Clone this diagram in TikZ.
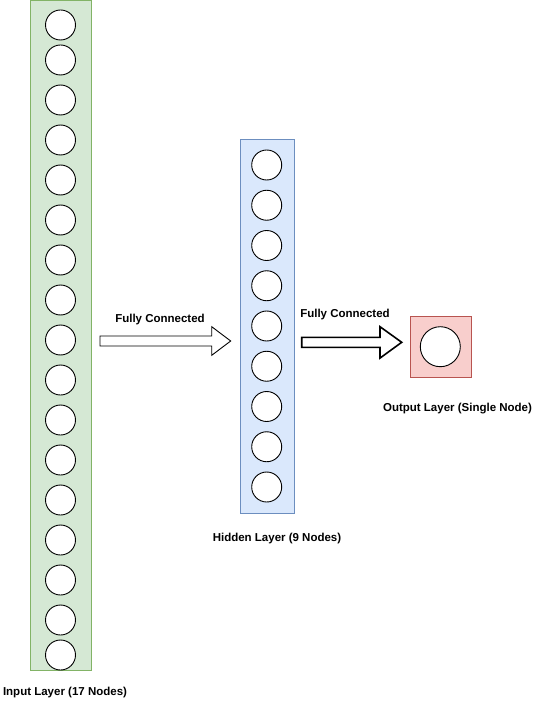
\documentclass[tikz,border=0pt]{standalone}
\usepackage{fontspec}
\setmainfont{Liberation Sans}
\usetikzlibrary{positioning}
\definecolor{GREEN_F}{HTML}{D5E8D4}
\definecolor{GREEN_D}{HTML}{82B366}
\definecolor{BLUE_F}{HTML}{DAE8FC}
\definecolor{BLUE_D}{HTML}{6C8EBF}
\definecolor{RED_F}{HTML}{F8CECC}
\definecolor{RED_D}{HTML}{B85450}
\tikzset{
	every node/.style = {font=\fontsize{11.5}{13}\selectfont\bfseries},
	neuron/.style = {circle, draw=black, fill=white, line width=0.9pt, minimum size=30pt, inner sep=0pt},
	layerbox/.style = {rectangle, line width=1pt, inner sep=0pt},
	blockarrow/.style = {draw=black, fill=white, line join=miter}
}

\begin{document}
\begin{tikzpicture}[x=1pt, y=-1pt]
		\useasboundingbox (0,0) rectangle (541,711);
		% input layer
		\node[layerbox, draw=GREEN_D, fill=GREEN_F, minimum width=61pt, minimum height=670pt, anchor=north west] (input) at (30,0) {};
		\foreach \y [count=\i] in {25,60,100,140,180,220,260,300,340,380,420,460,500,540,580,620,655}
			\node[neuron] (in\i) at (60.5,\y) {};
		\node (inlabel) at (65,693) {Input Layer (17 Nodes)};
		% hidden layer
		\node[layerbox, draw=BLUE_D, fill=BLUE_F, minimum width=53.5pt, minimum height=373.5pt, anchor=north west] (hidden) at (240,139.3) {};
		\foreach \i in {1,...,9}
			\node[neuron] (hid\i) at (266.7,{165+(\i-1)*40.25}) {};
		\node (hidlabel) at (277,539) {Hidden Layer (9 Nodes)};
		% output layer
		\node[layerbox, draw=RED_D, fill=RED_F, minimum width=60.7pt, minimum height=61.3pt, anchor=north west] (output) at (410,316) {};
		\node[neuron, minimum size=40pt] (out1) at (440.3,346.7) {};
		\node (outlabel) at (457.5,409) {Output Layer (Single Node)};
		% arrows
		\coordinate (a1) at (100,341);
		\coordinate (a2) at (301.7,342.3);
		\draw[blockarrow, line width=0.9pt] (a1) ++(0,-5) -- ++(111.7,0) -- ++(0,-9.3) -- ++(19,14.3) -- ++(-19,14.3) -- ++(0,-9.3) -- ++(-111.7,0) -- cycle;
		\draw[blockarrow, line width=1.6pt] (a2) ++(0,-5) -- ++(78.3,0) -- ++(0,-10.6) -- ++(21.7,15.6) -- ++(-21.7,15.8) -- ++(0,-10.8) -- ++(-78.3,0) -- cycle;
		\node (fc1) at (160,320) {Fully Connected};
		\node (fc2) at (345,315) {Fully Connected};
	\end{tikzpicture}
\end{document}
